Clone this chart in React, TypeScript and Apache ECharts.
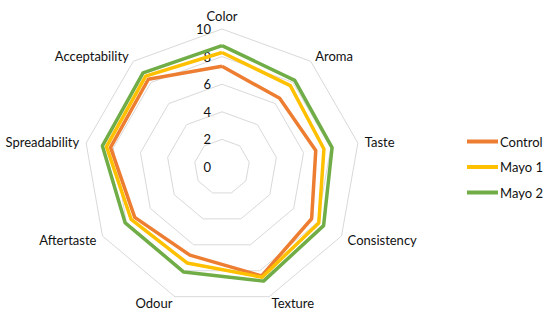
import React, { useEffect, useRef } from "react";
import * as echarts from "echarts";

const categories = ["Color", "Aroma", "Taste", "Consistency", "Texture", "Odour", "Aftertaste", "Spreadability", "Acceptability"];
const control = [7.3, 6.5, 6.9, 7.5, 8.4, 6.8, 7.3, 8.2, 8.3];
const mayo1 = [8.3, 7.7, 7.5, 8.1, 8.5, 7.4, 7.6, 8.5, 8.6];
const mayo2 = [8.8, 8.2, 8.1, 8.5, 8.8, 8.1, 8.1, 8.8, 8.9];
const seriesNames = ["Control", "Mayo 1", "Mayo 2"];
const colors = ["#ED7D31", "#FFC000", "#70AD47"];
const tickMax = 10;
const tickStep = 2;

const FONT = "Lato";

// ECharts radar runs counter-clockwise; reorder so the axes go clockwise from the top
const order = [0, ...categories.slice(1).map((_, i) => categories.length - 1 - i)];
const cw = <T,>(arr: T[]) => order.map((k) => arr[k]);

export default function App() {
  const ref = useRef<HTMLDivElement>(null);
  useEffect(() => {
    if (!ref.current) return;
    const chart = echarts.init(ref.current, undefined, { renderer: "svg" });
    const values = [control, mayo1, mayo2];
    chart.setOption({
      animation: false,
      backgroundColor: "#ffffff",
      textStyle: { fontFamily: FONT },
      legend: {
        orient: "vertical",
        left: 462,
        top: 130,
        itemWidth: 31,
        itemHeight: 4,
        itemGap: 12.5,
        icon: "rect",
        textStyle: { fontFamily: FONT, fontSize: 13, color: "#111111", padding: [0, 0, 0, -3] },
        data: seriesNames,
      },
      radar: {
        center: [222, 167],
        radius: 138,
        startAngle: 90,
        shape: "polygon",
        splitNumber: tickMax / tickStep,
        nameGap: 7,
        axisName: { color: "#111111", fontFamily: FONT, fontSize: 13 },
        axisLine: { show: false },
        axisTick: { show: false },
        axisLabel: { show: false },
        splitArea: { show: false },
        splitLine: { lineStyle: { color: "#d9d9d9", width: 1 } },
        indicator: cw(categories).map((c) => ({ name: c, min: 0, max: tickMax })),
      },
      polar: { center: [222, 167], radius: 138 },
      angleAxis: {
        type: "value",
        startAngle: 90,
        min: 0,
        max: 360,
        show: false,
      },
      radiusAxis: {
        type: "value",
        min: 0,
        max: tickMax,
        interval: tickStep,
        axisLine: { show: false },
        axisTick: { show: false },
        splitLine: { show: false },
        axisLabel: { show: true, margin: 11, fontFamily: FONT, fontSize: 13, color: "#111111" },
      },
      series: [
        {
          type: "radar",
          symbol: "none",
          data: values.map((v, i) => ({
            name: seriesNames[i],
            value: cw(v),
            lineStyle: { color: colors[i], width: 3.5 },
            itemStyle: { color: colors[i] },
          })),
        },
      ],
    });
    return () => chart.dispose();
  }, []);
  return <div ref={ref} style={{ position: "fixed", left: 0, top: 0, width: 550, height: 313 }} />;
}
